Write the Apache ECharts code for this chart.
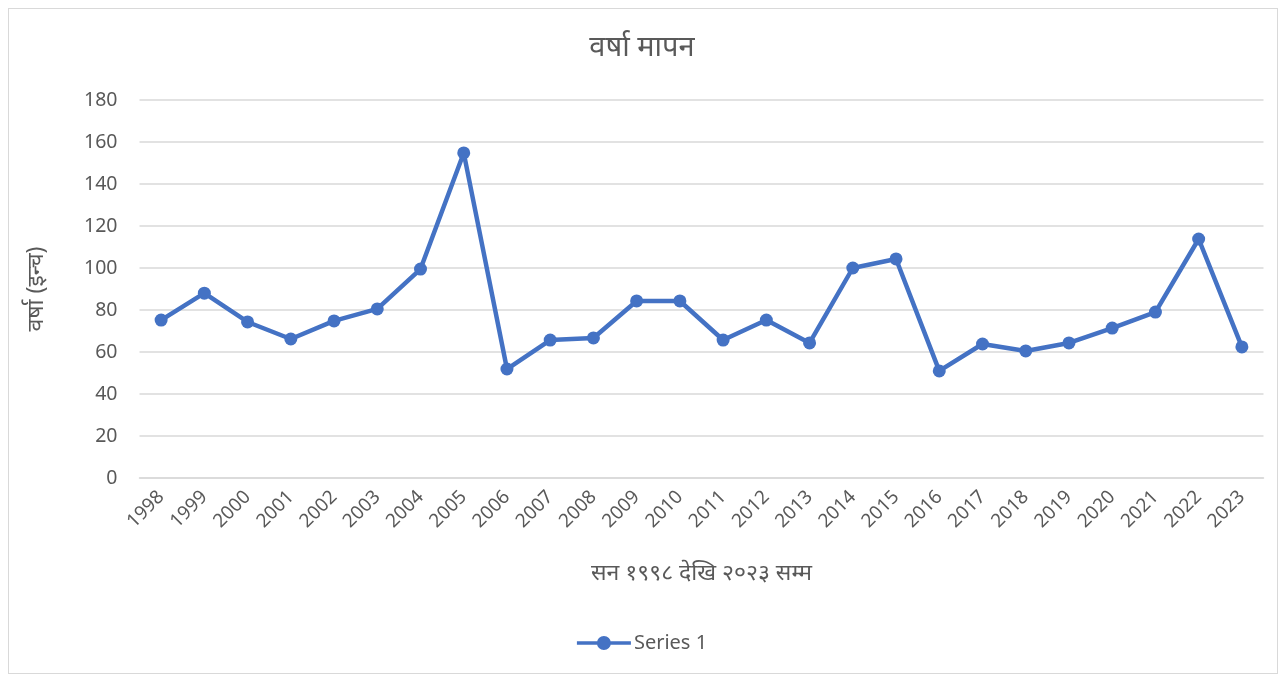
<!DOCTYPE html>
<html><head><meta charset="utf-8">
<script src="https://cdn.jsdelivr.net/npm/echarts@6/dist/echarts.min.js"></script>
<style>
html,body{margin:0;padding:0;background:#fff;}
#frame{position:absolute;left:8px;top:8px;width:1270px;height:666px;border:1px solid #d9d9d9;box-sizing:border-box;}
#c{position:absolute;left:0;top:0;width:1284px;height:674px;}
</style></head>
<body><div id="frame"></div><div id="c"></div>
<script>
const categories = ['1998','1999','2000','2001','2002','2003','2004','2005','2006','2007','2008','2009','2010','2011','2012','2013','2014','2015','2016','2017','2018','2019','2020','2021','2022','2023'];
const series1 = [75.2,88,74.3,66.2,74.8,80.5,99.5,154.8,51.9,65.7,66.7,84.3,84.3,65.7,75.2,64.3,100,104.3,51,63.8,60.5,64.3,71.4,79,113.8,62.4];
const yTicks = [0,180,20];
const titleText = 'वर्षा मापन';
const yName = 'वर्षा (इन्च)';
const xName = 'सन १९९८ देखि २०२३ सम्म';
const font = '"Noto Sans","Noto Sans Devanagari","Liberation Sans",sans-serif';
const grey = '#595959';
const chart = echarts.init(document.getElementById('c'));
chart.setOption({
  animation:false,
  title:{text:titleText,left:'center',top:28,textStyle:{fontFamily:font,fontSize:29,fontWeight:'normal',color:grey}},
  legend:{bottom:16,left:'center',itemWidth:54,itemHeight:14,itemGap:4,
    icon:'path://M0,5.2 L54,5.2 L54,8.8 L0,8.8 Z M34,7 A7,7 0 1,1 20,7 A7,7 0 1,1 34,7 Z',
    data:['Series 1'],textStyle:{fontFamily:font,fontSize:20,color:grey,padding:[0,0,0,-2]}},
  grid:{left:139.5,right:20.5,top:100,bottom:196},
  xAxis:{type:'category',data:categories,boundaryGap:true,
    axisLine:{lineStyle:{color:'#d9d9d9',width:1.5}},axisTick:{show:false},
    axisLabel:{rotate:45,fontFamily:font,fontSize:19,color:grey,margin:16},
    name:xName,nameLocation:'middle',nameGap:84,nameTextStyle:{fontFamily:font,fontSize:23,color:grey}},
  yAxis:{type:'value',min:yTicks[0],max:yTicks[1],interval:yTicks[2],
    axisLine:{show:false},axisTick:{show:false},
    splitLine:{lineStyle:{color:'#d9d9d9',width:1.5}},
    axisLabel:{fontFamily:font,fontSize:19.5,color:grey,margin:22},
    name:yName,nameLocation:'middle',nameGap:92,nameTextStyle:{fontFamily:font,fontSize:23,color:grey}},
  series:[{name:'Series 1',type:'line',data:series1,symbol:'circle',symbolSize:13,
    lineStyle:{color:'#4472c4',width:4.5},itemStyle:{color:'#4472c4'}}]
});
</script></body></html>
